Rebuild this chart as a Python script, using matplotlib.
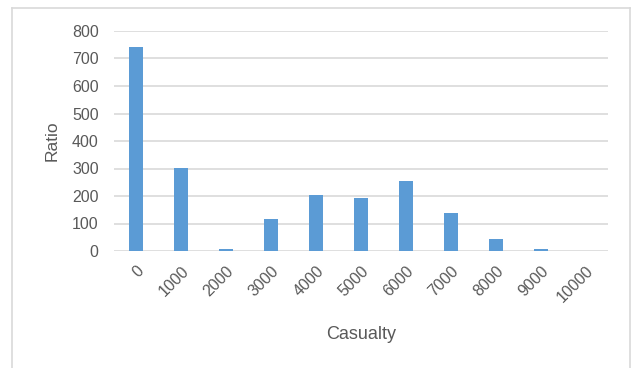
import matplotlib
matplotlib.use("Agg")
import matplotlib.pyplot as plt
from matplotlib.lines import Line2D

categories = ["0", "1000", "2000", "3000", "4000", "5000", "6000", "7000", "8000", "9000", "10000"]
ratio = [743, 302, 9, 116, 204, 193, 255, 139, 43, 6, 0]
y_ticks = [0, 100, 200, 300, 400, 500, 600, 700, 800]

W, H = 632, 368
fig = plt.figure(figsize=(W / 100, H / 100), dpi=100)
plt.rcParams["font.family"] = ["Liberation Sans", "DejaVu Sans"]

left, right, top, bottom = 114, 608, 31, 251
ax = fig.add_axes([left / W, 1 - bottom / H, (right - left) / W, (bottom - top) / H])

x = list(range(len(categories)))
ax.bar(x, ratio, width=0.31, color="#5b9bd5", zorder=3)

ax.set_xlim(-0.5, len(categories) - 0.5)
ax.set_ylim(0, 800)
ax.set_yticks(y_ticks)
ax.set_yticklabels([str(v) for v in y_ticks])
ax.set_xticks(x)
ax.set_xticklabels(categories, rotation=45, ha="right", rotation_mode="anchor")

ax.grid(axis="y", color="#d9d9d9", linewidth=1.2, zorder=0)
ax.set_axisbelow(True)
for s in ax.spines.values():
    s.set_visible(False)
ax.tick_params(axis="both", length=0, colors="#595959", labelsize=11.5)
ax.tick_params(axis="y", pad=11)
ax.tick_params(axis="x", pad=9)

ax.set_ylabel("Ratio", fontsize=12.5, color="#595959", labelpad=9)
ax.set_xlabel("Casualty", fontsize=13, color="#595959", labelpad=15)

# light chart-area frame
frame = dict(color="#d9d9d9", linewidth=1.2, transform=fig.transFigure)
fig.add_artist(Line2D([12 / W, 12 / W], [0, 1 - 8 / H], **frame))
fig.add_artist(Line2D([630 / W, 630 / W], [0, 1 - 8 / H], **frame))
fig.add_artist(Line2D([12 / W, 630 / W], [1 - 8 / H, 1 - 8 / H], **frame))

fig.savefig("out.png", dpi=100)
